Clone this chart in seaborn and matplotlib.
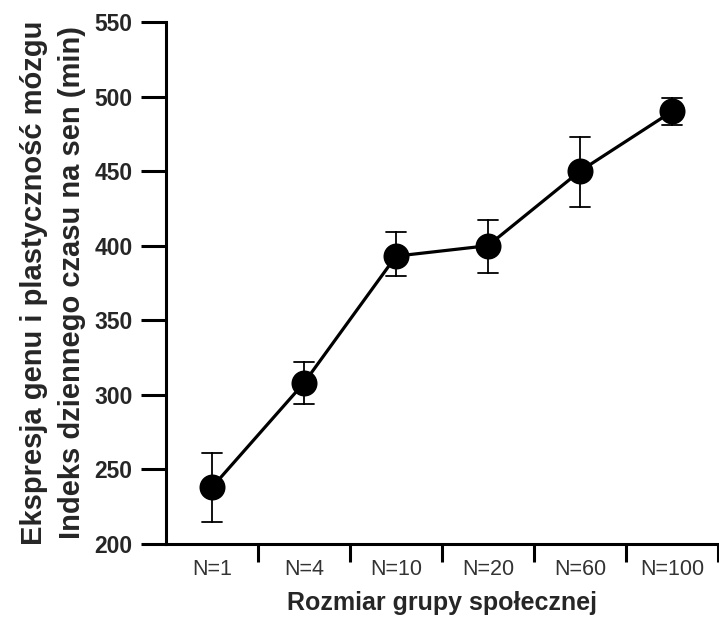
import pandas as pd
import numpy as np
import matplotlib
matplotlib.use("Agg")
import matplotlib.pyplot as plt
import seaborn as sns
from matplotlib.ticker import FixedLocator

# ------------------------------------------------------------------------
# 1. Data
# ------------------------------------------------------------------------
groups = ["N=1", "N=4", "N=10", "N=20", "N=60", "N=100"]
means = [238, 308, 393, 400, 450, 490]
err_low = [215, 294, 380, 382, 426, 481]
err_high = [261, 322, 409, 417, 473, 499]

y_ticks = [200, 250, 300, 350, 400, 450, 500, 550]

# long form: median of (low, mean, high) = mean, min/max = error bar ends
df = pd.DataFrame({
    "grupa": groups * 3,
    "wartosc": err_low + means + err_high,
})

# ------------------------------------------------------------------------
# 2. Style
# ------------------------------------------------------------------------
sns.set_theme(style="ticks")
plt.rcParams["font.family"] = ["Liberation Sans", "DejaVu Sans"]

fig = plt.figure(figsize=(7.19, 6.19), dpi=100)
ax = fig.add_axes([0.2309, 0.1212, 0.7677, 0.8433])

sns.pointplot(
    data=df, x="grupa", y="wartosc", order=groups,
    estimator="median", errorbar=("pi", 100),
    color="black", markersize=17, linewidth=2.3,
    capsize=0.22, err_kws={"linewidth": 1.3},
    ax=ax,
)

# ------------------------------------------------------------------------
# 3. Axes
# ------------------------------------------------------------------------
ax.set_xlim(-0.5, 5.5)
ax.set_ylim(200, 550)
ax.set_yticks(y_ticks)
ax.set_yticklabels([str(v) for v in y_ticks], fontsize=16.5, fontweight="bold")
ax.set_xticks(range(len(groups)))
ax.set_xticklabels(groups, fontsize=15.5, color="#333333")
ax.xaxis.set_minor_locator(FixedLocator(np.arange(0.5, len(groups), 1.0)))

ax.tick_params(axis="x", which="major", length=0, pad=11)
ax.tick_params(axis="x", which="minor", length=13, width=2.2, color="black")
ax.tick_params(axis="y", which="major", length=18, width=2.2, pad=6, color="black")

for side in ["top", "right"]:
    ax.spines[side].set_visible(False)
for side in ["left", "bottom"]:
    ax.spines[side].set_linewidth(2.2)
    ax.spines[side].set_color("black")

ax.set_xlabel("Rozmiar grupy społecznej", fontsize=18, fontweight="bold", va="center")
ax.xaxis.set_label_coords(0.5, -0.113)
ax.set_ylabel("Ekspresja genu i plastyczność mózgu\nIndeks dziennego czasu na sen (min)",
              fontsize=21, fontweight="bold", va="center", linespacing=1.45)
ax.yaxis.set_label_coords(-0.204, 0.5)

fig.savefig("out.png", dpi=100)
plt.close(fig)
